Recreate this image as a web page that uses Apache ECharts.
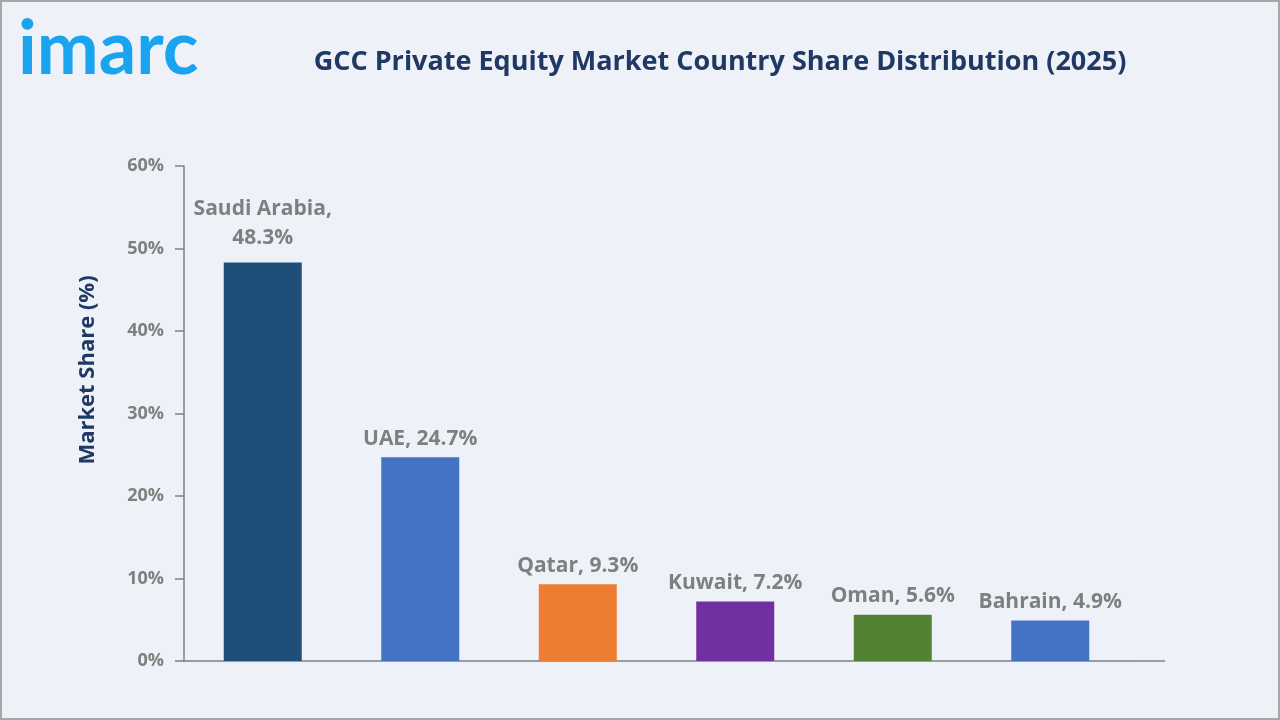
<!DOCTYPE html>
<html>
<head>
<meta charset="utf-8">
<script src="https://cdn.jsdelivr.net/npm/echarts@6/dist/echarts.min.js"></script>
<style>
  html, body { margin: 0; padding: 0; background: #eef2f8; }
  #chart { width: 1280px; height: 720px; }
</style>
</head>
<body>
<div id="chart"></div>
<script>
const countries = ["Saudi Arabia", "UAE", "Qatar", "Kuwait", "Oman", "Bahrain"];
const shares = [48.3, 24.7, 9.3, 7.2, 5.6, 4.9];
const barColors = ["#1f4e79", "#4472c4", "#ed7d31", "#7030a0", "#548235", "#4472c4"];
const yTicks = [0, 10, 20, 30, 40, 50, 60];

const chart = echarts.init(document.getElementById("chart"));

const option = {
  backgroundColor: "#eef2f8",
  textStyle: { fontFamily: "Open Sans, Noto Sans, sans-serif" },
  graphic: [
    {
      type: "rect",
      shape: { x: 1, y: 1, width: 1278, height: 718 },
      style: { fill: "none", stroke: "#a6a6a6", lineWidth: 2 },
      silent: true
    },
    {
      type: "text",
      x: 18, y: 50,
      style: {
        text: "imarc", fill: "#1aa3ef", font: "bold 74px Lato, Noto Sans, sans-serif",
        verticalAlign: "middle"
      }
    },
    {
      type: "text",
      x: 720, y: 62,
      style: {
        text: "GCC Private Equity Market Country Share Distribution (2025)",
        fill: "#1f3864", font: "bold 27px Open Sans, Noto Sans, sans-serif",
        align: "center", verticalAlign: "middle"
      }
    },
    {
      type: "text",
      x: 88, y: 370, rotation: Math.PI / 2,
      style: {
        text: "Market Share (%)", fill: "#1f3864",
        font: "bold 22px Open Sans, Noto Sans, sans-serif",
        align: "center", verticalAlign: "middle"
      }
    },
    {
      type: "line",
      shape: { x1: 1129, y1: 661, x2: 1165, y2: 661 },
      style: { stroke: "#808080", lineWidth: 1.5 }
    }
  ],
  grid: { left: 184, top: 166, width: 945, height: 495 },
  xAxis: {
    type: "category",
    data: countries,
    axisLine: { lineStyle: { color: "#808080", width: 1.5 } },
    axisTick: { show: false },
    axisLabel: { show: false }
  },
  yAxis: {
    type: "value",
    min: 0, max: 60, interval: 10,
    axisLine: { show: true, lineStyle: { color: "#808080", width: 1.5 } },
    axisTick: { show: true, length: 9, lineStyle: { color: "#808080", width: 1.5 } },
    splitLine: { show: false },
    axisLabel: {
      color: "#7f7f7f", fontSize: 18, fontWeight: "bold", margin: 20,
      formatter: v => yTicks.includes(v) ? v + "%" : ""
    }
  },
  series: [{
    type: "bar",
    barWidth: 78,
    data: shares.map((v, i) => ({
      value: v,
      itemStyle: { color: barColors[i] },
      label: i === 0 ? { distance: 10 } : undefined
    })),
    label: {
      show: true,
      position: "top",
      distance: 4,
      color: "#7f7f7f",
      fontSize: 21,
      fontWeight: "bold",
      lineHeight: 29,
      formatter: p => p.dataIndex === 0 ? p.name + ",\n" + p.value + "%" : p.name + ", " + p.value + "%"
    }
  }]
};

chart.setOption(option);
</script>
</body>
</html>
